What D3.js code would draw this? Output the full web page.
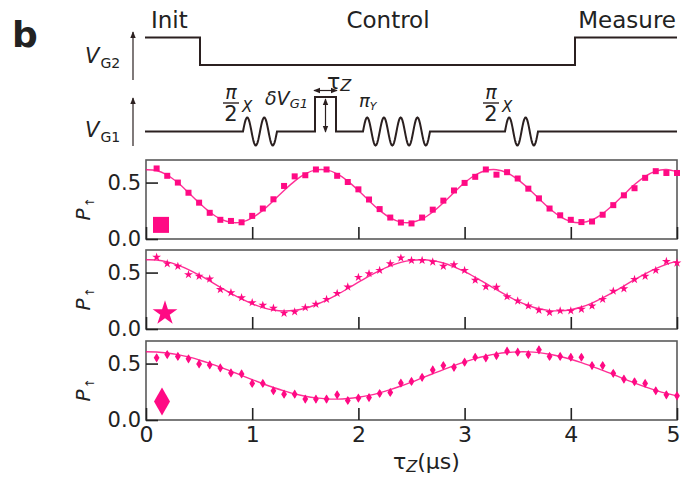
<!DOCTYPE html>
<html><head><meta charset="utf-8">
<script src="https://cdn.jsdelivr.net/npm/d3@7/dist/d3.min.js"></script>
<style>body{margin:0;background:#fff}svg{display:block}text{font-family:"DejaVu Sans",Verdana,sans-serif;fill:#222}</style>
</head><body><svg id="c" width="682" height="480"></svg>
<script>
// ---------- data ----------
const tauZ = [0.1,0.2,0.3,0.4,0.5,0.6,0.7,0.8,0.9,1.0,1.1,1.2,1.3,1.4,1.5,1.6,1.7,1.8,1.9,2.0,2.1,2.2,2.3,2.4,2.5,2.6,2.7,2.8,2.9,3.0,3.1,3.2,3.3,3.4,3.5,3.6,3.7,3.8,3.9,4.0,4.1,4.2,4.3,4.4,4.5,4.6,4.7,4.8,4.9,5.0];
const tauFit = [0.0,0.1,0.2,0.3,0.4,0.5,0.6,0.7,0.8,0.9,1.0,1.1,1.2,1.3,1.4,1.5,1.6,1.7,1.8,1.9,2.0,2.1,2.2,2.3,2.4,2.5,2.6,2.7,2.8,2.9,3.0,3.1,3.2,3.3,3.4,3.5,3.6,3.7,3.8,3.9,4.0,4.1,4.2,4.3,4.4,4.5,4.6,4.7,4.8,4.9,5.0];
const pSquare = [.625,.560,.500,.410,.322,.232,.170,.160,.148,.205,.270,.352,.470,.555,.565,.616,.616,.560,.505,.440,.350,.265,.190,.146,.138,.190,.260,.340,.430,.497,.551,.616,.570,.592,.536,.446,.360,.270,.210,.170,.150,.155,.215,.300,.387,.450,.542,.601,.585,.585];
const fitSquare = [.614,.607,.567,.498,.412,.321,.239,.178,.147,.150,.188,.254,.339,.430,.513,.577,.612,.612,.577,.513,.430,.339,.254,.188,.150,.147,.178,.239,.321,.412,.498,.567,.607,.614,.587,.528,.448,.357,.270,.199,.155,.145,.169,.225,.304,.394,.482,.555,.602,.616,.595];
const pStar = [.637,.579,.556,.482,.468,.444,.351,.322,.278,.234,.210,.184,.140,.152,.190,.219,.263,.316,.373,.458,.491,.520,.579,.629,.608,.608,.594,.556,.570,.520,.433,.374,.371,.287,.249,.205,.167,.146,.161,.161,.175,.205,.263,.336,.357,.439,.468,.520,.599,.585];
const fitStar = [.613,.611,.595,.566,.527,.479,.426,.370,.316,.266,.223,.190,.168,.160,.166,.184,.215,.256,.305,.359,.415,.469,.518,.559,.590,.608,.614,.606,.585,.551,.508,.458,.404,.348,.295,.247,.208,.179,.163,.161,.171,.195,.230,.275,.326,.381,.437,.489,.535,.573,.599];
const pDiamond = [.551,.580,.563,.542,.497,.488,.461,.417,.408,.324,.324,.259,.229,.229,.185,.185,.185,.223,.173,.194,.199,.235,.244,.327,.342,.378,.444,.482,.467,.512,.556,.551,.571,.610,.601,.580,.622,.563,.563,.556,.556,.482,.482,.414,.363,.339,.324,.259,.223,.214];
const fitDiamond = [.605,.603,.594,.579,.559,.532,.502,.468,.432,.395,.358,.322,.288,.258,.231,.211,.196,.187,.185,.190,.201,.218,.241,.269,.301,.336,.373,.410,.447,.482,.515,.544,.567,.586,.598,.604,.604,.597,.583,.563,.538,.509,.475,.440,.403,.365,.329,.294,.263,.236,.214];
const errDiamond = 0.03;
const xTicks = [0,1,2,3,4,5];
const yTicks = [0.0,0.5];
const stageLabels = ["Init","Control","Measure"];

// ---------- layout ----------
const svg = d3.select("#c");
const pink = "#ff0a84", frameCol = "#5a5a5a", ink = "#2b2020";
const x = d3.scaleLinear().domain([0,5]).range([146,677]);
const panelTops = [160,250,341], ph = 79;
const panels = [
  {pts:pSquare, fit:fitSquare, kind:"square"},
  {pts:pStar, fit:fitStar, kind:"star"},
  {pts:pDiamond, fit:fitDiamond, kind:"diamond"}
];

panels.forEach((p,i)=>{
  const top = panelTops[i];
  const y = d3.scaleLinear().domain([0,0.7]).range([top+ph, top]);
  const g = svg.append("g");
  g.append("rect").attr("x",x(0)).attr("y",top).attr("width",x(5)-x(0)).attr("height",ph)
    .attr("fill","none").attr("stroke",frameCol).attr("stroke-width",1.6);
  const ya = g.append("g").attr("transform",`translate(${x(0)},0)`)
    .call(d3.axisLeft(y).tickValues(yTicks).tickSize(-12).tickPadding(5).tickFormat(d3.format(".1f")));
  ya.select(".domain").remove();
  ya.selectAll("line").attr("stroke","#222").attr("stroke-width",1.6);
  ya.selectAll("text").attr("font-size",21).attr("fill","#222").attr("font-family","DejaVu Sans");
  const xa = g.append("g").attr("transform",`translate(0,${top+ph})`)
    .call(d3.axisBottom(x).tickValues(xTicks).tickSize(-12).tickPadding(6).tickFormat(d3.format("d")));
  xa.select(".domain").remove();
  xa.selectAll("line").attr("stroke","#222").attr("stroke-width",1.6);
  xa.selectAll("text").attr("font-size",22).attr("fill","#222").attr("font-family","DejaVu Sans")
    .attr("dx", d => d===5 ? -4 : 0)
    .style("display", i===2 ? null : "none");
  const yl = g.append("text").attr("transform",`translate(90,${top+ph/2+21}) rotate(-90)`);
  yl.append("tspan").text("P").attr("font-style","italic").attr("font-size",20);
  yl.append("tspan").text("↑").attr("font-size",12).attr("dy",4).attr("dx",1);
  g.append("path").datum(p.fit.map((v,k)=>[tauFit[k],v]))
    .attr("d", d3.line().x(d=>x(d[0])).y(d=>y(d[1])).curve(d3.curveCatmullRom))
    .attr("fill","none").attr("stroke",pink).attr("stroke-width",1.4).attr("opacity",0.85);
  const data = p.pts.map((v,k)=>({t:tauZ[k],v}));
  if(p.kind==="square"){
    g.selectAll("rect.pt").data(data).join("rect").attr("class","pt")
      .attr("x",d=>x(d.t)-3).attr("y",d=>y(d.v)-3).attr("width",6).attr("height",6).attr("fill",pink);
    g.append("rect").attr("x",153).attr("y",y(0.196)).attr("width",16).attr("height",16).attr("fill",pink);
  } else if(p.kind==="star"){
    const s = d3.symbol(d3.symbolStar).size(24);
    g.selectAll("path.pt").data(data).join("path").attr("class","pt")
      .attr("transform",d=>`translate(${x(d.t)},${y(d.v)})`).attr("d",s).attr("fill",pink);
    g.append("path").attr("transform",`translate(165,${y(0.14)})`)
      .attr("d",d3.symbol(d3.symbolStar).size(190)).attr("fill",pink);
  } else {
    g.selectAll("line.eb").data(data).join("line").attr("class","eb")
      .attr("x1",d=>x(d.t)).attr("x2",d=>x(d.t))
      .attr("y1",d=>y(d.v-errDiamond)).attr("y2",d=>y(d.v+errDiamond))
      .attr("stroke",pink).attr("stroke-width",1.4);
    const dm = (w,h)=>`M0,${-h}L${w},0L0,${h}L${-w},0Z`;
    g.selectAll("path.pt").data(data).join("path").attr("class","pt")
      .attr("transform",d=>`translate(${x(d.t)},${y(d.v)})`).attr("d",dm(2.9,4.6)).attr("fill",pink);
    g.append("path").attr("transform",`translate(162,${y(0.165)})`).attr("d",dm(8,14)).attr("fill",pink);
  }
});

// x label
const xl = svg.append("text").attr("x",393).attr("y",469).attr("font-size",22);
xl.append("tspan").text("τ");
xl.append("tspan").text("Z").attr("font-style","italic").attr("font-size",16).attr("dy",3);
xl.append("tspan").text("(μs)").attr("dy",-3);

// ---------- pulse schematic ----------
svg.append("text").attr("x",12).attr("y",47).attr("font-size",36).attr("font-weight","bold").attr("fill","#111").text("b");
svg.append("text").attr("x",151).attr("y",28).attr("font-size",23).text(stageLabels[0]);
svg.append("text").attr("x",388).attr("y",28).attr("font-size",23).attr("text-anchor","middle").text(stageLabels[1]);
svg.append("text").attr("x",676).attr("y",28).attr("font-size",23).attr("text-anchor","end").text(stageLabels[2]);

const defs = svg.append("defs");
defs.append("marker").attr("id","ah").attr("viewBox","0 0 10 10").attr("refX",9).attr("refY",5)
  .attr("markerWidth",6).attr("markerHeight",6).attr("orient","auto-start-reverse")
  .append("path").attr("d","M0,1L10,5L0,9Z").attr("fill",ink);

const sx = d3.scaleLinear().domain([0,1]).range([145,677]);
const hiG2 = 37.5, loG2 = 65, baseG1 = 131.5, pulseTop = 97;
const vg2 = [[sx(0),hiG2],[200,hiG2],[200,loG2],[575,loG2],[575,hiG2],[sx(1),hiG2]];
svg.append("path").attr("d",d3.line()(vg2)).attr("fill","none").attr("stroke",ink).attr("stroke-width",2);

function wiggle(x0,x1,n,A){const pts=[];for(let k=0;k<=80;k++){const xx=x0+(x1-x0)*k/80;pts.push([xx,baseG1-A*Math.sin(2*Math.PI*n*k/80)]);}return pts;}
const vg1 = [[sx(0),baseG1]].concat(wiggle(243,277,2,14),[[315,baseG1],[315,pulseTop],[336,pulseTop],[336,baseG1]],
  wiggle(363,430,4,14), wiggle(505,538,2,14), [[sx(1),baseG1]]);
svg.append("path").attr("d",d3.line()(vg1)).attr("fill","none").attr("stroke",ink).attr("stroke-width",2);

[[133,80,32],[133,146,98]].forEach(a=>{
  svg.append("line").attr("x1",a[0]).attr("x2",a[0]).attr("y1",a[1]).attr("y2",a[2])
    .attr("stroke",ink).attr("stroke-width",1.2).attr("marker-end","url(#ah)");
});
svg.append("line").attr("x1",314).attr("x2",337).attr("y1",90.5).attr("y2",90.5).attr("stroke",ink).attr("stroke-width",1.2)
  .attr("marker-start","url(#ah)").attr("marker-end","url(#ah)");
svg.append("line").attr("x1",325.5).attr("x2",325.5).attr("y1",99).attr("y2",132).attr("stroke",ink).attr("stroke-width",1.2)
  .attr("marker-start","url(#ah)").attr("marker-end","url(#ah)");

function vLabel(xp,yb,sub){const t=svg.append("text").attr("x",xp).attr("y",yb).attr("font-size",21);
  t.append("tspan").text("V").attr("font-style","italic");
  t.append("tspan").text(sub).attr("font-size",14).attr("dy",5).attr("dx",1);}
vLabel(85,63,"G2"); vLabel(85,137,"G1");

function halfPi(cx,xLabelX){
  svg.append("text").attr("x",cx).attr("y",99).attr("font-size",19).attr("text-anchor","middle").attr("font-style","italic").text("π");
  svg.append("line").attr("x1",cx-8).attr("x2",cx+8).attr("y1",103).attr("y2",103).attr("stroke",ink).attr("stroke-width",1.4);
  svg.append("text").attr("x",cx).attr("y",121).attr("font-size",21).attr("text-anchor","middle").text("2");
  svg.append("text").attr("x",xLabelX).attr("y",112).attr("font-size",15).attr("font-style","italic").text("X");
}
halfPi(231,242); halfPi(491,502);

const dv = svg.append("text").attr("x",265).attr("y",105).attr("font-size",19).attr("font-style","italic");
dv.append("tspan").text("δV");
dv.append("tspan").text("G1").attr("font-size",13).attr("dy",3);
const tz = svg.append("text").attr("x",327).attr("y",89).attr("font-size",22);
tz.append("tspan").text("τ");
tz.append("tspan").text("Z").attr("font-size",16).attr("font-style","italic").attr("dy",2);
const py = svg.append("text").attr("x",359).attr("y",107).attr("font-size",18).attr("font-style","italic");
py.append("tspan").text("π");
py.append("tspan").text("Y").attr("font-size",11).attr("dy",3);
</script></body></html>
